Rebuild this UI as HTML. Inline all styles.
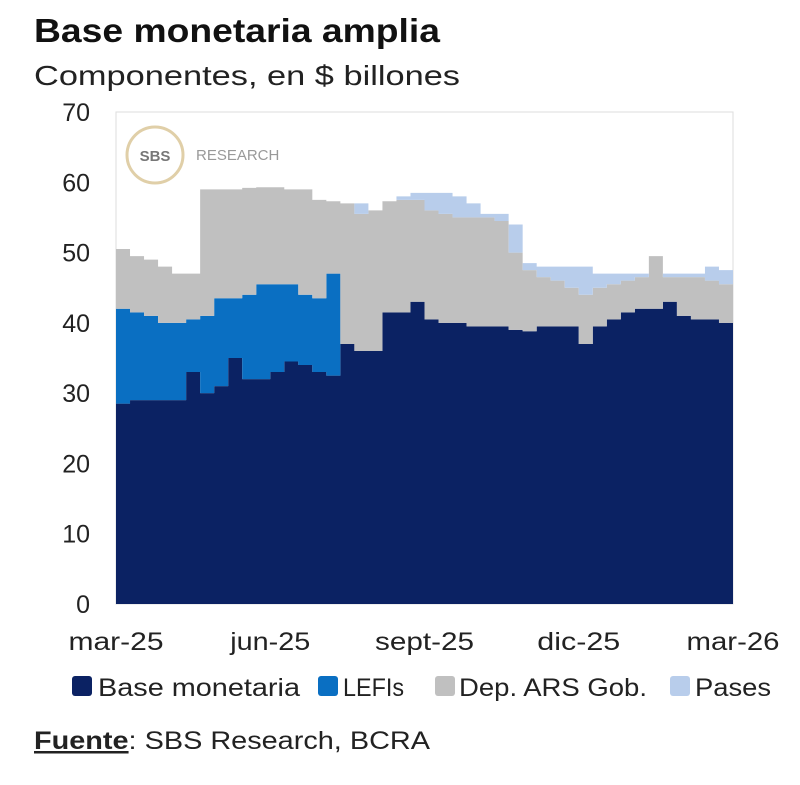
<!DOCTYPE html>
<html><head><meta charset="utf-8"><style>
body{margin:0;background:#fff;width:800px;height:780px;overflow:hidden;font-family:"Liberation Sans",sans-serif;}
</style></head><body>
<svg id="chart" width="800" height="780" xmlns="http://www.w3.org/2000/svg">
<text x="34" y="42" font-size="33" font-weight="bold" fill="#111" textLength="406" lengthAdjust="spacingAndGlyphs">Base monetaria amplia</text>
<text x="34" y="85" font-size="28" fill="#222" textLength="426" lengthAdjust="spacingAndGlyphs">Componentes, en $ billones</text>
<rect x="116" y="112" width="617" height="492" fill="none" stroke="#ddd"/>
<g>
<circle cx="155" cy="155" r="28" fill="#fff" stroke="#e0cfa8" stroke-width="3"/>
<text x="155" y="161" font-size="15" font-weight="bold" fill="#777" text-anchor="middle">SBS</text>
<text x="196" y="160" font-size="15" fill="#999">RESEARCH</text>
</g>
<g id="areas"></g><g id="yaxis"></g><g id="xaxis"></g>
<g font-size="25" fill="#222">
<rect x="72" y="676" width="20" height="20" rx="3" fill="#0b2263"/>
<text x="98" y="696" textLength="202" lengthAdjust="spacingAndGlyphs">Base monetaria</text>
<rect x="318" y="676" width="20" height="20" rx="3" fill="#0a6fc2"/>
<text x="343" y="696" textLength="61" lengthAdjust="spacingAndGlyphs">LEFIs</text>
<rect x="435" y="676" width="20" height="20" rx="3" fill="#c0c0c0"/>
<text x="459" y="696" textLength="188" lengthAdjust="spacingAndGlyphs">Dep. ARS Gob.</text>
<rect x="670" y="676" width="20" height="20" rx="3" fill="#b8cdeb"/>
<text x="695" y="696" textLength="76" lengthAdjust="spacingAndGlyphs">Pases</text>
</g>
<text x="34" y="749" font-size="25" fill="#222" textLength="396" lengthAdjust="spacingAndGlyphs"><tspan font-weight="bold" text-decoration="underline">Fuente</tspan>: SBS Research,  BCRA</text>
</svg>
<script>
const base=[28.5,29,29,29,29,33,30,31,35,32,32,33,34.5,34,33,32.5,37,36,36,41.5,41.5,43,40.5,40,40,39.5,39.5,39.5,39,38.8,39.5,39.5,39.5,37,39.5,40.5,41.5,42,42,43,41,40.5,40.5,40,40];
const lefis=[13.5,12.5,12,11,11,7.5,11,12.5,8.5,12,13.5,12.5,11,10,10.5,14.5,0,0,0,0,0,0,0,0,0,0,0,0,0,0,0,0,0,0,0,0,0,0,0,0,0,0,0,0,0];
const dep=[8.5,8,8,8,7,6.5,18,15.5,15.5,15.2,13.8,13.8,13.5,15,14,10.3,20,19.5,20,15.8,16,14.5,15.5,15.5,15,15.5,15.5,15,11,8.7,7,6.5,5.5,7,5.5,5,4.5,4.5,7.5,3.5,5.5,6,5.5,5.5,5];
const pases=[0,0,0,0,0,0,0,0,0,0,0,0,0,0,0,0,0,1.5,0,0,0.5,1,2.5,3,3,2,0.5,1,4,1,1.5,2,3,4,2,1.5,1,0.5,0,0.5,0.5,0.5,2,2,1];
const yTicks=[0,10,20,30,40,50,60,70];
const xLabels=["mar-25","jun-25","sept-25","dic-25","mar-26"];
const xLabelWidths=[95,80,99,83,93];
const X0=116,X1=733,Y0=604,Y1=112;
const n=base.length;
const xs=i=>X0+(X1-X0)*i/(n-1);
const ys=v=>Y0-(Y0-Y1)*v/70;
const NS="http://www.w3.org/2000/svg";
const svg=document.getElementById('areas');
const series=[[base,'#0b2263','area-base-monetaria'],[lefis,'#0a6fc2','area-lefis'],[dep,'#c0c0c0','area-dep-ars-gob'],[pases,'#b8cdeb','area-pases']];
let cum=new Array(n).fill(0);
series.forEach(([vals,col,name])=>{
  const lo=cum.slice(),hi=cum.map((c,i)=>c+vals[i]);
  let d='';
  for(let i=0;i<n;i++){const xa=xs(i),xb=i<n-1?xs(i+1):X1;d+=(i?'L':'M')+xa+','+ys(hi[i])+'L'+xb+','+ys(hi[i]);}
  for(let i=n-1;i>=0;i--){const xa=xs(i),xb=i<n-1?xs(i+1):X1;d+='L'+xb+','+ys(lo[i])+'L'+xa+','+ys(lo[i]);}
  const p=document.createElementNS(NS,'path');
  p.setAttribute('d',d+'Z');p.setAttribute('fill',col);
  
  
  svg.appendChild(p);cum=hi;
});
const ya=document.getElementById('yaxis');
yTicks.forEach(t=>{const e=document.createElementNS(NS,'text');e.setAttribute('x',90);e.setAttribute('y',ys(t)+9);e.setAttribute('text-anchor','end');e.setAttribute('font-size','25');e.setAttribute('fill','#222');e.textContent=t;


ya.appendChild(e);});
const xa=document.getElementById('xaxis');
xLabels.forEach((t,i)=>{const e=document.createElementNS(NS,'text');e.setAttribute('x',X0+(X1-X0)*i/4-xLabelWidths[i]/2);e.setAttribute('y',650);e.setAttribute('font-size','25');e.setAttribute('fill','#222');e.setAttribute('textLength',xLabelWidths[i]);e.setAttribute('lengthAdjust','spacingAndGlyphs');e.textContent=t;


xa.appendChild(e);});
</script>
</body></html>
